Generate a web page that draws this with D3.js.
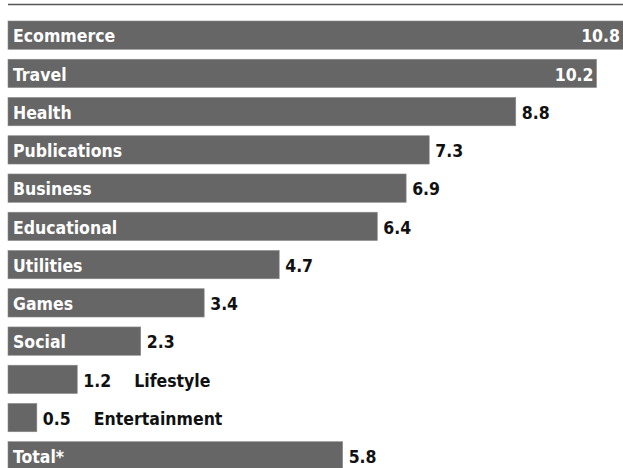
<!DOCTYPE html>
<html>
<head>
<meta charset="utf-8">
<script src="https://cdn.jsdelivr.net/npm/d3@7"></script>
<style>
  body { margin: 0; background: #fff; }
  text { font-family: "DejaVu Sans Condensed", "DejaVu Sans", sans-serif; font-stretch: condensed; font-weight: bold; }
</style>
</head>
<body>
<div class="chart"></div>
<script>
// categories and values
const categories = ["Ecommerce", "Travel", "Health", "Publications", "Business", "Educational",
  "Utilities", "Games", "Social", "Lifestyle", "Entertainment", "Total*"];
const values = [10.8, 10.2, 8.8, 7.3, 6.9, 6.4, 4.7, 3.4, 2.3, 1.2, 0.5, 5.8];
// labels that sit outside the bar, after the value
const outsideNames = ["Lifestyle", "Entertainment"];
// values printed inside the bar end
const insideValues = ["Ecommerce", "Travel"];

const data = categories.map((c, i) => ({name: c, value: values[i]}));

const outerWidth = 623, outerHeight = 468;
const margin = {left: 8, top: 21, bottom: -2};
const fontSize = 17.5;

const svg = d3.select(".chart").append("svg")
  .attr("width", outerWidth)
  .attr("height", outerHeight);

const xScale = d3.scaleLinear()
  .domain([0, 1])
  .range([margin.left, margin.left + 57.7]);

const yScale = d3.scaleBand()
  .domain(categories)
  .range([margin.top, outerHeight - margin.bottom])
  .paddingInner(0.26)
  .paddingOuter(0);

// rule at the top
svg.append("line")
  .attr("x1", 8).attr("x2", outerWidth)
  .attr("y1", 4.5).attr("y2", 4.5)
  .attr("stroke", "#555").attr("stroke-width", 1.5);

const g = svg.append("g");

g.selectAll("rect")
  .data(data)
  .enter()
  .append("rect")
  .attr("x", xScale(0))
  .attr("y", d => yScale(d.name))
  .attr("width", d => xScale(d.value) - xScale(0))
  .attr("height", yScale.bandwidth())
  .attr("fill", "#666")
  .attr("stroke", "#8a8a8a")
  .attr("stroke-width", 0.6);

const mid = d => yScale(d.name) + yScale.bandwidth() / 2 + 7.3;

// names inside bars
g.selectAll(".name")
  .data(data.filter(d => !outsideNames.includes(d.name)))
  .enter()
  .append("text")
  .attr("class", "name")
  .attr("x", xScale(0) + 5)
  .attr("y", mid)
  .attr("fill", "#fff")
  .attr("font-size", fontSize)
  .text(d => d.name);

// values
g.selectAll(".val")
  .data(data)
  .enter()
  .append("text")
  .attr("class", "val")
  .attr("x", d => insideValues.includes(d.name) ? Math.min(xScale(d.value), outerWidth) - 3 : xScale(d.value) + 6)
  .attr("y", mid)
  .attr("text-anchor", d => insideValues.includes(d.name) ? "end" : "start")
  .attr("fill", d => insideValues.includes(d.name) ? "#fff" : "#111")
  .attr("font-size", fontSize)
  .text(d => d.value.toFixed(1));

// names outside small bars, after the value
g.selectAll(".outname")
  .data(data.filter(d => outsideNames.includes(d.name)))
  .enter()
  .append("text")
  .attr("class", "outname")
  .attr("x", d => xScale(d.value) + 57)
  .attr("y", mid)
  .attr("fill", "#111")
  .attr("font-size", fontSize)
  .text(d => d.name);
</script>
</body>
</html>
